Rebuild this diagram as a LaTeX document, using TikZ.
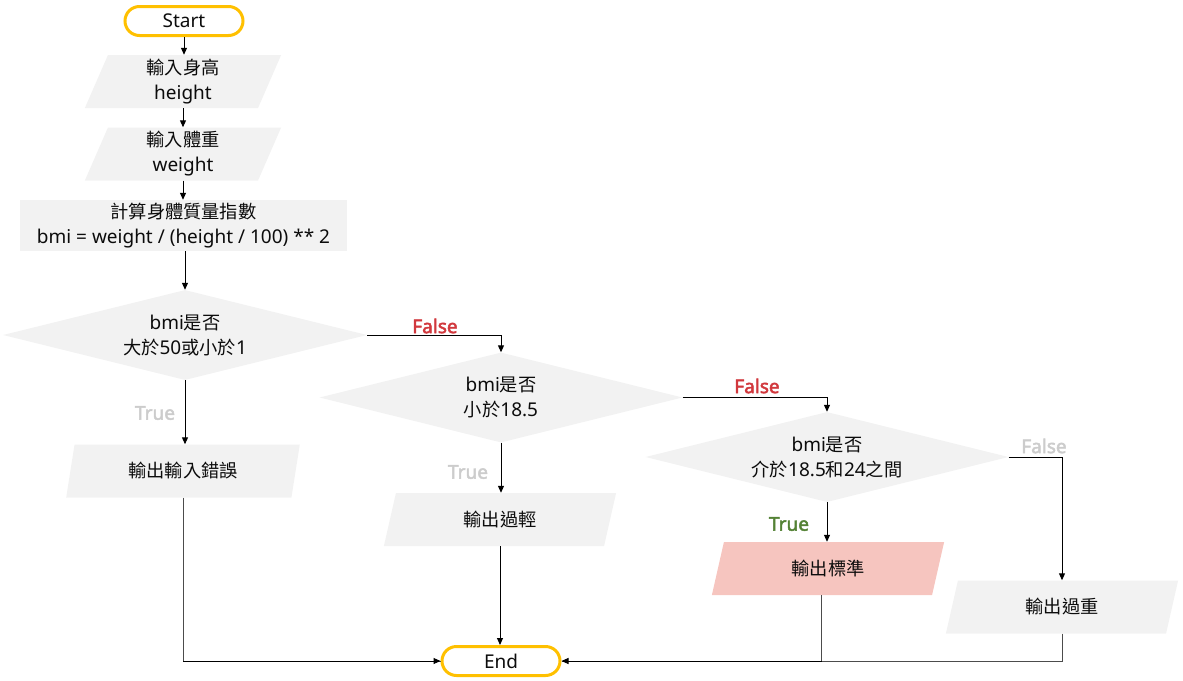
\documentclass[tikz,border=0pt]{standalone}
\usepackage{fontspec}
\setmainfont{Noto Sans}
\newfontfamily\cjk{Noto Sans CJK TC}[Scale=0.96]
\newfontfamily\branchfont{Noto Sans}[FakeBold=2.5]
\usetikzlibrary{shapes.geometric,shapes.misc,arrows.meta,calc}
\newcommand\zh[1]{{\cjk #1}}
\definecolor{boxgray}{RGB}{242,242,242}
\definecolor{termyellow}{RGB}{255,192,0}
\definecolor{okpink}{RGB}{246,197,191}
\definecolor{falsered}{RGB}{209,56,61}
\definecolor{truegreen}{RGB}{84,130,53}
\definecolor{mutedgray}{RGB}{204,204,204}
\definecolor{inkdark}{RGB}{12,12,12}
\tikzset{
  base/.style={font=\fontsize{19}{25}\selectfont, text=inkdark, align=center, inner sep=0pt},
  terminal/.style={base, rounded rectangle, draw=termyellow, line width=3pt,
    minimum width=118, minimum height=29},
  io/.style={base, trapezium, trapezium left angle=76, trapezium right angle=104,
    trapezium stretches=true, fill=boxgray, minimum height=53},
  procbox/.style={base, rectangle, fill=boxgray, minimum width=327, minimum height=51},
  decision/.style={base, diamond, aspect=4, fill=boxgray, minimum width=363, minimum height=90},
  flow/.style={line width=1pt, draw=black, -{Triangle[length=7pt,width=6pt]}},
  mergeline/.style={line width=1pt, draw=black!70},
  branch/.style={font=\branchfont\fontsize{19}{22}\selectfont, inner sep=0pt},
}
\begin{document}
\begin{tikzpicture}[x=1pt, y=-1pt]
\useasboundingbox (0,0) rectangle (1183,680);

% terminals
\node[terminal] (start) at (184,21) {Start};
\node[terminal] (stop) at (501,661) {End};

% inputs and calculation
\node[io, minimum width=198] (inh) at (183,81.5) {\zh{輸入身高}\\height};
\node[io, minimum width=198] (inw) at (183,154) {\zh{輸入體重}\\weight};
\node[procbox] (calc) at (183.5,225.5) {\zh{計算身體質量指數}\\bmi = weight / (height / 100) ** 2};

% decisions
\node[decision, minimum width=364] (d1) at (185,335) {bmi\zh{是否}\\\zh{大於}50\zh{或小於}1};
\node[decision] (d2) at (501,397.5) {bmi\zh{是否}\\\zh{小於}18.5};
\node[decision] (d3) at (827,457) {bmi\zh{是否}\\\zh{介於}18.5\zh{和}24\zh{之間}};

% outputs
\node[io, minimum width=234] (o1) at (183,471) {\zh{輸出輸入錯誤}};
\node[io, minimum width=234] (o2) at (500,519.5) {\zh{輸出過輕}};
\node[io, minimum width=234, fill=okpink] (o3) at (828,568.5) {\zh{輸出標準}};
\node[io, minimum width=234] (o4) at (1062,607) {\zh{輸出過重}};

% main flow
\draw[flow] (start.south) -- (start.south |- inh.north);
\draw[flow] (inh.south -| inh.center) -- (inh.center |- inw.north);
\draw[flow] (inw.south -| inw.center) -- (inw.center |- calc.north);
\draw[flow] (calc.south -| d1.north) -- (d1.north);

% branches
\draw[flow] (d1.east) -| (d2.north);
\draw[flow] (d1.south) -- (d1.south |- o1.north);
\draw[flow] (d2.south) -- (d2.south |- o2.north);
\draw[flow] (d2.east) -| (d3.north);
\draw[flow] (d3.south) -- (d3.south |- o3.north);
\draw[flow] (d3.east) -| (o4.north -| o4.center);

% branch labels
\node[branch, text=falsered] (f1) at (435,326) {False};
\node[branch, text=mutedgray] (t1) at (155,413) {True};
\node[branch, text=mutedgray] (t2) at (468,472) {True};
\node[branch, text=falsered] (f2) at (757,386) {False};
\node[branch, text=mutedgray] (f3) at (1044,446) {False};
\node[branch, text=truegreen] (t3) at (789,524) {True};

% outputs into End
\coordinate (o3b) at ($(o3.bottom left corner)!.5!(o3.bottom right corner)$);
\draw[mergeline] (o1.south -| o1.center) |- (stop.west);
\draw[flow] (o1.center |- stop.west) -- (stop.west);
\draw[flow] (o2.south -| o2.center) -- (o2.center |- stop.north);
\draw[mergeline] (o4.south -| o4.center) |- (stop.east);
\draw[mergeline] (o3b) |- (stop.east);
\draw[flow] (o3b |- stop.east) -- (stop.east);
\end{tikzpicture}
\end{document}
